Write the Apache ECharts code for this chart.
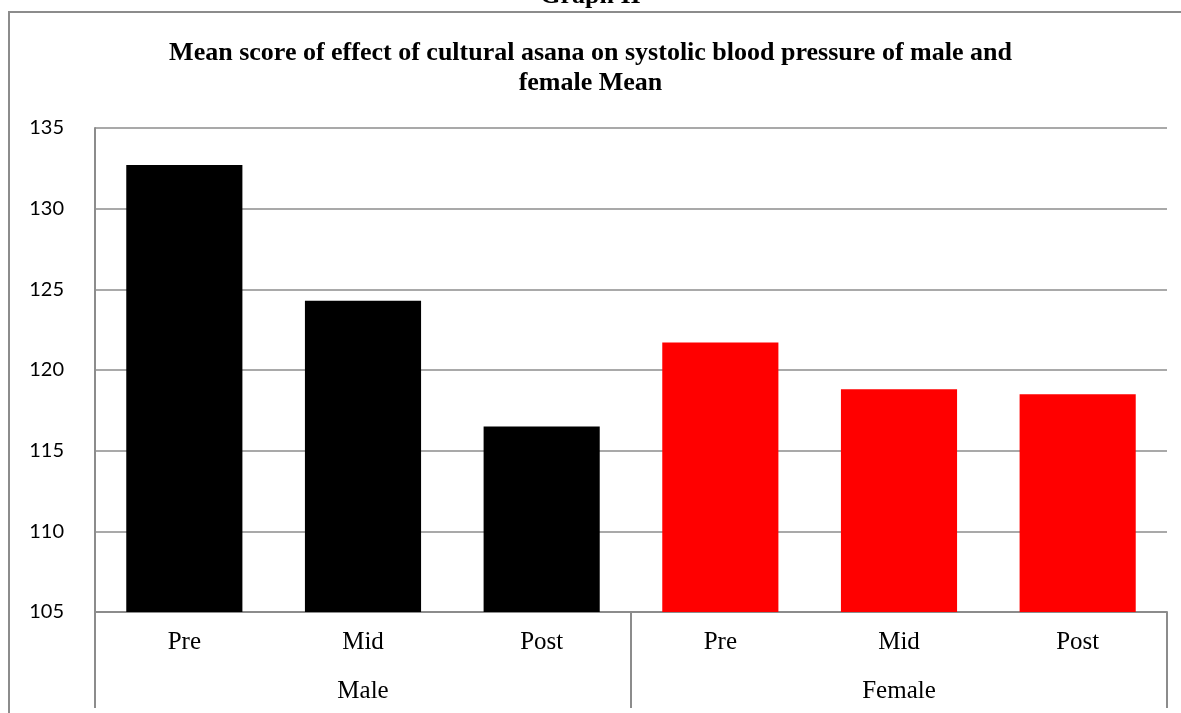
<!DOCTYPE html>
<html>
<head>
<meta charset="utf-8">
<script src="https://cdn.jsdelivr.net/npm/echarts@6/dist/echarts.min.js"></script>
<style>
  html, body { margin: 0; padding: 0; background: #fff; }
  #chart { width: 1181px; height: 713px; }
</style>
</head>
<body>
<div id="chart"></div>
<script>
// data
var stages = ['Pre', 'Mid', 'Post', 'Pre', 'Mid', 'Post'];
var groups = ['Male', 'Female'];
var groupColors = ['#000000', '#ff0000'];
var meanValues = [132.7, 124.3, 116.5, 121.7, 118.8, 118.5];

var chart = echarts.init(document.getElementById('chart'));

var barData = meanValues.map(function (v, i) {
  return { value: v, itemStyle: { color: groupColors[Math.floor(i / 3)] } };
});

chart.setOption({
  animation: false,
  title: {
    text: 'Mean score of effect of cultural asana on systolic blood pressure of male and\nfemale Mean',
    left: 'center',
    top: 33,
    textStyle: {
      fontFamily: 'Liberation Serif',
      fontWeight: 'bold',
      fontSize: 26,
      lineHeight: 30,
      color: '#000'
    }
  },
  graphic: [
    {
      type: 'text',
      left: 'center',
      top: -17,
      style: { text: 'Graph II', font: 'bold 26px "Liberation Serif"', fill: '#000' }
    },
    {
      type: 'polyline',
      shape: { points: [[9, 713], [9, 12], [1181, 12]] },
      style: { stroke: '#8c8c8c', lineWidth: 2, fill: null }
    }
  ],
  grid: { left: 95, right: 14, top: 128, bottom: 101 },
  xAxis: [
    {
      type: 'category',
      data: stages,
      axisLine: { lineStyle: { color: '#8c8c8c', width: 2 } },
      axisTick: { show: false },
      axisLabel: {
        margin: 18,
        fontFamily: 'Liberation Serif',
        fontSize: 25,
        color: '#000'
      }
    },
    {
      type: 'category',
      position: 'bottom',
      data: groups,
      axisLine: { show: false },
      axisTick: { show: true, length: 96, lineStyle: { color: '#8c8c8c', width: 2 } },
      axisLabel: {
        margin: 67,
        fontFamily: 'Liberation Serif',
        fontSize: 25,
        color: '#000'
      }
    }
  ],
  yAxis: {
    type: 'value',
    min: 105,
    max: 135,
    interval: 5,
    axisLine: { show: true, lineStyle: { color: '#8c8c8c', width: 2 } },
    axisTick: { show: false },
    splitLine: { lineStyle: { color: '#8c8c8c', width: 1.5 } },
    axisLabel: {
      margin: 31,
      fontFamily: 'Lato',
      fontSize: 20,
      color: '#000'
    }
  },
  series: [
    {
      type: 'bar',
      xAxisIndex: 0,
      barWidth: '65%',
      data: barData
    }
  ]
});
</script>
</body>
</html>
